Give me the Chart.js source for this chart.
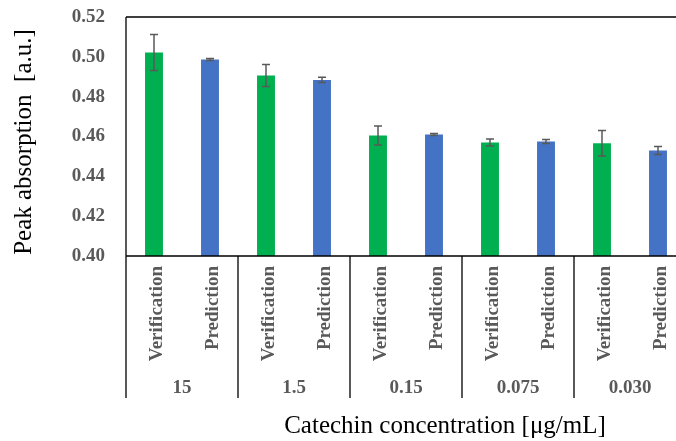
<!DOCTYPE html>
<html>
<head>
<meta charset="utf-8">
<title>Catechin peak absorption</title>
<script src="https://cdn.jsdelivr.net/npm/chart.js@4.4.1/dist/chart.umd.min.js"></script>
<style>
  html, body { margin: 0; padding: 0; overflow: hidden; background: #ffffff; }
  #wrap { width: 676px; height: 441px; overflow: hidden; }
  canvas { display: block; }
</style>
</head>
<body>
<div id="wrap"><canvas id="chart" width="700" height="441"></canvas></div>
<script>
// Catechin concentrations (µg/mL), one group per concentration
const concentrations = ['15', '1.5', '0.15', '0.075', '0.030'];
const seriesNames = ['Verification', 'Prediction'];

// Peak absorption [a.u.] and standard deviations
const verification    = [0.5022, 0.4906, 0.4605, 0.4570, 0.4566];
const verificationErr = [0.0090, 0.0055, 0.0048, 0.0018, 0.0064];
const prediction      = [0.4987, 0.4884, 0.4610, 0.4575, 0.4530];
const predictionErr   = [0.0005, 0.0013, 0.0005, 0.0010, 0.0020];

// Y axis ticks
const yTicks = [0.40, 0.42, 0.44, 0.46, 0.48, 0.50, 0.52];

const GREEN = '#00B050';
const BLUE = '#4472C4';
const GRAY = '#595959';
const SERIF = '"Liberation Serif", "Times New Roman", serif';

// Interleave both series so every concentration gets a Verification and a Prediction bar
const labels = [], values = [], errors = [], colors = [];
concentrations.forEach((c, i) => {
  labels.push(seriesNames[0]); values.push(verification[i]); errors.push(verificationErr[i]); colors.push(GREEN);
  labels.push(seriesNames[1]); values.push(prediction[i]);   errors.push(predictionErr[i]);   colors.push(BLUE);
});

// Symmetric error bars drawn from the data through the scales
const errorBars = {
  id: 'errorBars',
  afterDatasetsDraw(chart) {
    const ctx = chart.ctx;
    const y = chart.scales.y;
    const meta = chart.getDatasetMeta(0);
    ctx.save();
    ctx.strokeStyle = GRAY;
    ctx.lineWidth = 1.5;
    meta.data.forEach((bar, i) => {
      const x = bar.x;
      const top = y.getPixelForValue(values[i] + errors[i]);
      const bot = y.getPixelForValue(values[i] - errors[i]);
      ctx.beginPath();
      ctx.moveTo(x, top); ctx.lineTo(x, bot);
      ctx.moveTo(x - 4, top); ctx.lineTo(x + 4, top);
      ctx.moveTo(x - 4, bot); ctx.lineTo(x + 4, bot);
      ctx.stroke();
    });
    ctx.restore();
  }
};

// Frame, two-level category axis and axis titles
const axisDecor = {
  id: 'axisDecor',
  afterDraw(chart) {
    const ctx = chart.ctx;
    const a = chart.chartArea;
    const x = chart.scales.x;
    const tableBottom = 398;
    ctx.save();
    ctx.strokeStyle = '#000000';
    ctx.lineWidth = 1.3;
    ctx.beginPath();
    // plot border top and baseline
    ctx.moveTo(a.left, a.top); ctx.lineTo(a.right, a.top);
    ctx.moveTo(a.left, a.bottom); ctx.lineTo(a.right, a.bottom);
    // left axis continues down through the category table
    ctx.moveTo(a.left, a.top); ctx.lineTo(a.left, tableBottom);
    // group separators
    const step = (a.right - a.left) / concentrations.length;
    for (let g = 1; g <= concentrations.length; g++) {
      const gx = a.left + g * step;
      ctx.moveTo(gx, a.bottom); ctx.lineTo(gx, tableBottom);
    }
    ctx.stroke();

    // rotated series labels
    ctx.fillStyle = GRAY;
    ctx.font = 'bold 19px ' + SERIF;
    labels.forEach((lab, i) => {
      const cx = x.getPixelForValue(i);
      ctx.save();
      ctx.translate(cx + 8, a.bottom + 10);
      ctx.rotate(-Math.PI / 2);
      ctx.textAlign = 'right';
      ctx.textBaseline = 'alphabetic';
      ctx.fillText(lab, 0, 0);
      ctx.restore();
    });

    // concentration labels
    ctx.textAlign = 'center';
    ctx.textBaseline = 'alphabetic';
    concentrations.forEach((c, g) => {
      ctx.fillText(c, a.left + (g + 0.5) * step, 393);
    });

    // axis titles
    ctx.fillStyle = '#000000';
    ctx.font = '25px ' + SERIF;
    ctx.fillText('Catechin concentration [\u03bcg/mL]', 445, 433);
    ctx.save();
    ctx.translate(24, 142);
    ctx.rotate(-Math.PI / 2);
    ctx.textBaseline = 'middle';
    ctx.fillText('Peak absorption  [a.u.]', 0, 0);
    ctx.restore();
    ctx.restore();
  }
};

new Chart(document.getElementById('chart'), {
  type: 'bar',
  data: {
    labels: labels,
    datasets: [{
      data: values,
      backgroundColor: colors,
      borderWidth: 0,
      barPercentage: 0.32,
      categoryPercentage: 1.0
    }]
  },
  options: {
    responsive: false,
    animation: false,
    events: [],
    layout: { padding: { left: 0, top: 17, right: 14, bottom: 185 } },
    plugins: { legend: { display: false }, tooltip: { enabled: false } },
    scales: {
      x: { display: false, offset: true, grid: { display: false } },
      y: {
        min: yTicks[0],
        max: yTicks[yTicks.length - 1],
        afterFit(scale) { scale.width = 126; },
        afterBuildTicks(scale) { scale.ticks = yTicks.map(v => ({ value: v })); },
        // transparent tick marks keep the labels clear of the axis line
        grid: { display: true, drawOnChartArea: false, drawTicks: true, tickLength: 21, color: 'rgba(0,0,0,0)' },
        border: { display: false },
        ticks: {
          padding: 0,
          color: GRAY,
          font: { family: SERIF, size: 19, weight: 'bold' },
          callback: v => v.toFixed(2)
        }
      }
    }
  },
  plugins: [errorBars, axisDecor]
});
</script>
</body>
</html>
